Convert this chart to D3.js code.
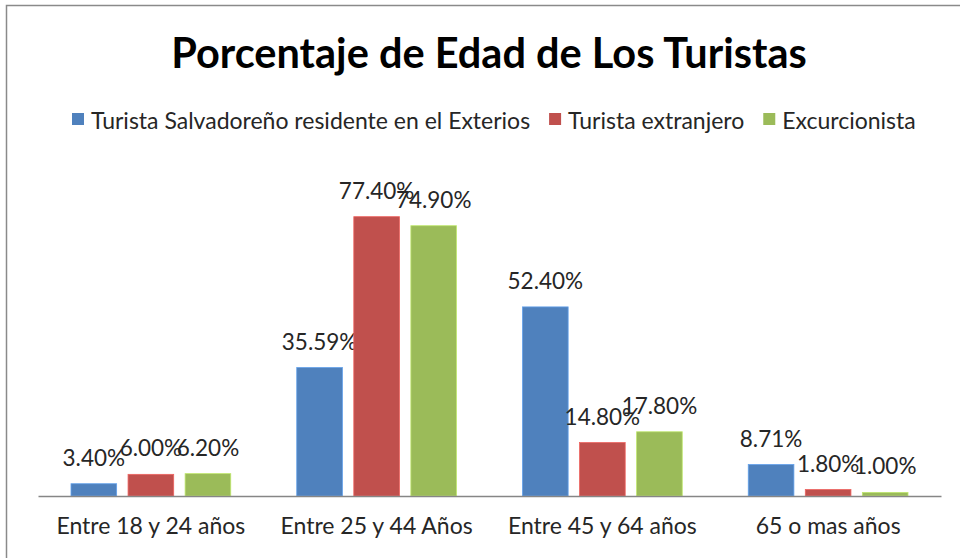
<!DOCTYPE html>
<html>
<head>
<meta charset="utf-8">
<script src="https://cdn.jsdelivr.net/npm/d3@7"></script>
<style>
  body { margin: 0; background: #fff; }
  svg { display: block; font-family: Lato, "Open Sans", sans-serif; }
</style>
</head>
<body>
<svg id="chart" width="960" height="558"></svg>
<script>
// data
let categories = ['Entre 18 y 24 años', 'Entre 25 y 44 Años', 'Entre 45 y 64 años', '65 o mas años']
let seriesNames = ['Turista Salvadoreño residente en el Exterios', 'Turista extranjero', 'Excurcionista']
let salvadorenos = [3.40, 35.59, 52.40, 8.71]
let extranjeros = [6.00, 77.40, 14.80, 1.80]
let excursionistas = [6.20, 74.90, 17.80, 1.00]
let colors = ['#4F81BD', '#C0504D', '#9BBB59']

let seriesValues = [salvadorenos, extranjeros, excursionistas]

let svg = d3.select('#chart')

// outer chart border (runs off the right and bottom edge)
svg.append('rect')
    .attr('x', 6.5).attr('y', 5.5)
    .attr('width', 1000).attr('height', 600)
    .attr('fill', 'none')
    .attr('stroke', '#8a8a8a')
    .attr('stroke-width', 1.5)

svg.append('text')
    .attr('x', 489).attr('y', 68)
    .attr('text-anchor', 'middle')
    .attr('font-size', 41.5)
    .attr('font-weight', 'bold')
    .attr('fill', '#000')
    .text('Porcentaje de Edad de Los Turistas')

let xScale = d3.scaleBand()
    .domain(categories)
    .range([38, 941])

let inner = d3.scaleBand()
    .domain(d3.range(seriesNames.length))
    .range([33, xScale.bandwidth() - 33])
    .paddingInner(0.2)

let yScale = d3.scaleLinear()
    .domain([0, 80])
    .range([496, 207.3])

// legend
let legend = svg.append('g').attr('transform', 'translate(0,121)')
let lx = 72
seriesNames.forEach((name, i) => {
    legend.append('rect')
        .attr('x', lx).attr('y', -8)
        .attr('width', 12).attr('height', 12)
        .attr('fill', colors[i])
    let t = legend.append('text')
        .attr('x', lx + 19).attr('y', 8)
        .attr('font-size', 23)
        .attr('fill', '#262626')
        .text(name)
    lx += 19 + t.node().getComputedTextLength() + 19
})

let groups = svg.selectAll('g.group')
    .data(categories)
    .enter()
    .append('g')
    .attr('class', 'group')
    .attr('transform', (d) => 'translate(' + xScale(d) + ',0)')

seriesValues.forEach((values, s) => {
    groups.append('rect')
        .attr('x', inner(s))
        .attr('y', (d, i) => yScale(values[i]))
        .attr('width', inner.bandwidth())
        .attr('height', (d, i) => yScale(0) - yScale(values[i]))
        .attr('fill', colors[s])
        .attr('stroke', d3.color(colors[s]).brighter(0.6))
        .attr('stroke-width', 0.8)

    groups.append('text')
        .attr('x', inner(s) + inner.bandwidth() / 2)
        .attr('y', (d, i) => yScale(values[i]) - 18)
        .attr('text-anchor', 'middle')
        .attr('font-size', 22.5)
        .attr('fill', '#262626')
        .text((d, i) => values[i].toFixed(2) + '%')
})

// category axis
let xAxis = svg.append('g')
    .attr('transform', 'translate(0,496)')
    .call(d3.axisBottom(xScale).tickSize(0).tickPadding(22))
xAxis.select('.domain').attr('stroke', '#868686').attr('stroke-width', 1.3)
xAxis.selectAll('text')
    .attr('font-size', 23)
    .attr('font-family', 'Lato, "Open Sans", sans-serif')
    .attr('fill', '#262626')
</script>
</body>
</html>
